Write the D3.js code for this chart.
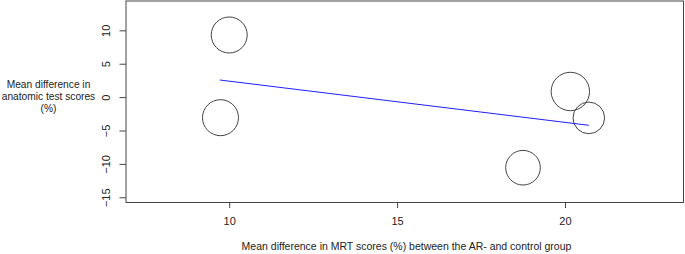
<!DOCTYPE html>
<html>
<head>
<meta charset="utf-8">
<script src="https://cdn.jsdelivr.net/npm/d3@7"></script>
<style>
  body { margin: 0; background: #fff; }
  svg text { font-family: "Liberation Sans", Arial, sans-serif; font-size: 10.5px; fill: #222; }
</style>
</head>
<body>
<svg id="chart" width="685" height="254"></svg>
<script>
// study estimates (meta-regression bubble plot)
const mrtDiff = [10.0, 9.74, 20.16, 20.71, 18.75];
const anatDiff = [9.30, -3.08, 0.84, -3.11, -10.57];
const weights = [324, 324, 369, 250, 300];

// fitted regression line end points
const fitX = [9.72, 20.71];
const fitY = [2.56, -4.22];

const xTicks = [10, 15, 20];
const yTicks = [-15, -10, -5, 0, 5, 10];

const xTitle = 'Mean difference in MRT scores (%) between the AR- and control group';
const yTitle = ['Mean difference in', 'anatomic test scores', '(%)'];

let svg = d3.select('#chart');

let plot = { left: 126, right: 683.5, top: 1, bottom: 202.5 };

let x = d3.scaleLinear().domain([6.926, 23.53]).range([plot.left, plot.right]);
let y = d3.scaleLinear().domain([-15.78, 14.39]).range([plot.bottom, plot.top]);
let r = d3.scaleSqrt().domain([0, 400]).range([0, 20]);

// x axis
let xAxis = svg.append('g')
    .attr('transform', 'translate(0,' + plot.bottom + ')')
    .call(d3.axisBottom(x).tickValues(xTicks).tickSize(5.5).tickPadding(9.5).tickSizeOuter(0));
xAxis.select('.domain').remove();
xAxis.selectAll('line').attr('stroke', '#444');
xAxis.selectAll('text').style('font-size', '11px').attr('fill', '#222');

// y axis, labels turned like R does
let yAxis = svg.append('g')
    .attr('transform', 'translate(' + plot.left + ',0)')
    .call(d3.axisLeft(y).tickValues(yTicks).tickSize(6.5).tickSizeOuter(0));
yAxis.select('.domain').remove();
yAxis.selectAll('line').attr('stroke', '#444');
yAxis.selectAll('text')
    .attr('x', 0)
    .attr('y', -15.8)
    .attr('dy', null)
    .attr('transform', 'rotate(-90)')
    .attr('text-anchor', 'middle')
    .attr('fill', '#222')
    .style('font-size', '11px');

// plot box
svg.append('rect')
    .attr('x', plot.left)
    .attr('y', plot.top)
    .attr('width', plot.right - plot.left)
    .attr('height', plot.bottom - plot.top)
    .attr('fill', 'none')
    .attr('stroke', '#444')
    .attr('stroke-width', 1);

// bubbles
let data = mrtDiff.map((d, i) => ({ x: d, y: anatDiff[i], w: weights[i] }));
svg.selectAll('.bubble')
    .data(data)
    .enter()
    .append('circle')
    .attr('class', 'bubble')
    .attr('cx', d => x(d.x))
    .attr('cy', d => y(d.y))
    .attr('r', d => r(d.w))
    .attr('fill', 'none')
    .attr('stroke', '#444')
    .attr('stroke-width', 1);

// regression line
svg.append('path')
    .datum(fitX.map((d, i) => [d, fitY[i]]))
    .attr('d', d3.line().x(d => x(d[0])).y(d => y(d[1])))
    .attr('fill', 'none')
    .attr('stroke', '#1f1fff')
    .attr('stroke-width', 1);

// titles
svg.append('text')
    .attr('x', 406.5)
    .attr('y', 249.5)
    .attr('text-anchor', 'middle')
    .text(xTitle);

svg.append('g').selectAll('text')
    .data(yTitle)
    .enter()
    .append('text')
    .attr('x', 48.5)
    .attr('y', (d, i) => 88 + i * 12.2)
    .attr('text-anchor', 'middle')
    .style('font-size', '10.2px')
    .text(d => d);
</script>
</body>
</html>
